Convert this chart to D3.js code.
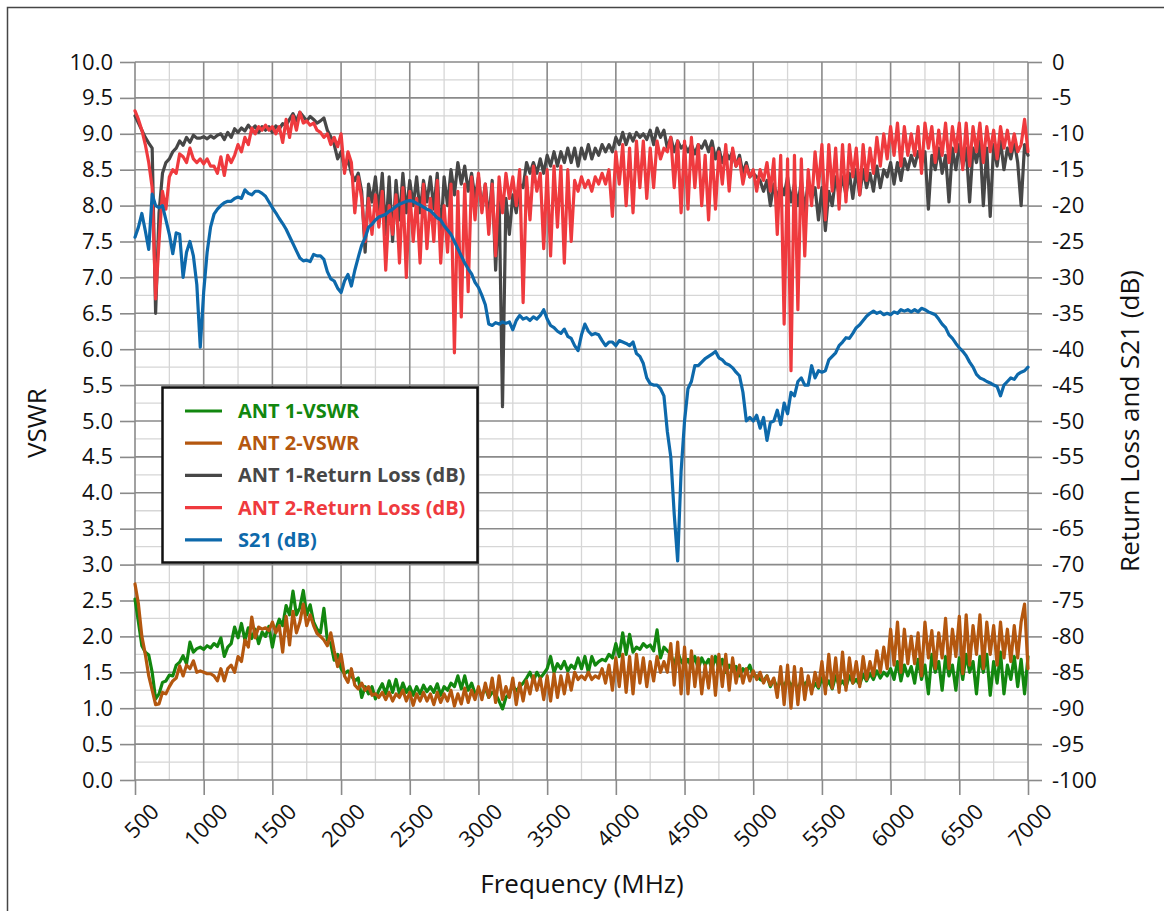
<!DOCTYPE html>
<html><head><meta charset="utf-8">
<script src="https://cdn.jsdelivr.net/npm/d3@7"></script>
<style>
body{margin:0;background:#fff;}
svg{display:block;}
text{font-family:"Open Sans",sans-serif;}
</style></head><body>
<svg id="chart" width="1164" height="911"></svg>
<script>
// Frequency axis (MHz): samples every 25 MHz from 500 to 7000
const freqStart = 500, freqEnd = 7000, freqStep = 25;
const xTickLabels = [500,1000,1500,2000,2500,3000,3500,4000,4500,5000,5500,6000,6500,7000];
const vswrTicks = [0,0.5,1,1.5,2,2.5,3,3.5,4,4.5,5,5.5,6,6.5,7,7.5,8,8.5,9,9.5,10];
const dbTicks = [-100,-95,-90,-85,-80,-75,-70,-65,-60,-55,-50,-45,-40,-35,-30,-25,-20,-15,-10,-5,0];

const ant1Vswr = [
2.52,2.2,1.87,1.78,1.74,1.5,1.13,1.2,
1.36,1.38,1.46,1.45,1.6,1.64,1.73,1.62,
1.92,1.78,1.83,1.85,1.82,1.87,1.84,1.9,
1.86,1.98,1.72,1.85,1.9,2.13,1.98,2.18,
1.95,2.12,1.97,2.1,1.9,2.06,2.0,2.14,
1.85,2.1,2.24,2.15,2.43,2.3,2.63,2.3,
2.4,2.64,2.3,2.44,2.2,2.1,2.05,2.39,
1.95,1.9,1.67,1.75,1.55,1.48,1.52,1.45,
1.38,1.42,1.15,1.3,1.2,1.3,1.13,1.25,
1.34,1.2,1.38,1.22,1.4,1.2,1.35,1.22,
1.3,1.18,1.3,1.2,1.32,1.23,1.3,1.22,
1.34,1.18,1.3,1.25,1.35,1.3,1.45,1.27,
1.45,1.25,1.35,1.2,1.25,1.18,1.28,1.15,
1.22,1.2,1.1,0.99,1.15,1.2,1.32,1.24,
1.3,1.35,1.42,1.5,1.38,1.5,1.42,1.48,
1.55,1.72,1.5,1.62,1.55,1.65,1.52,1.6,
1.55,1.7,1.55,1.72,1.5,1.72,1.6,1.65,
1.68,1.66,1.75,1.7,1.9,1.72,2.05,1.75,
2.03,1.78,1.85,1.82,1.9,1.85,1.88,1.8,
2.09,1.7,1.85,1.8,1.75,1.6,1.78,1.65,
1.6,1.68,1.58,1.72,1.55,1.7,1.6,1.68,
1.55,1.72,1.55,1.68,1.5,1.6,1.52,1.58,
1.45,1.55,1.5,1.6,1.45,1.45,1.4,1.38,
1.45,1.3,1.4,1.28,1.38,1.3,1.42,1.3,
1.38,1.25,1.4,1.32,1.4,1.25,1.35,1.28,
1.42,1.3,1.38,1.27,1.45,1.32,1.38,1.3,
1.45,1.35,1.4,1.33,1.47,1.38,1.48,1.4,
1.52,1.42,1.5,1.45,1.55,1.4,1.65,1.38,
1.6,1.45,1.58,1.35,1.68,1.4,1.6,1.2,
1.75,1.5,1.65,1.25,1.72,1.45,1.6,1.25,
1.7,1.4,1.75,1.5,1.65,1.2,1.72,1.5,
1.75,1.18,1.65,1.35,1.78,1.2,1.6,1.4,
1.72,1.3,1.68,1.2,1.72
];

const ant2Vswr = [
2.73,2.45,2.0,1.75,1.45,1.25,1.05,1.06,
1.22,1.2,1.3,1.38,1.42,1.59,1.45,1.6,
1.55,1.66,1.5,1.52,1.5,1.48,1.48,1.45,
1.38,1.55,1.38,1.55,1.6,1.5,1.72,1.65,
1.95,1.85,2.27,1.98,2.13,2.1,2.12,2.08,
2.2,2.05,2.15,1.78,2.28,1.88,2.35,2.05,
2.2,2.45,2.15,2.3,2.15,2.04,2.0,1.95,
1.87,2.05,1.8,1.58,1.75,1.45,1.36,1.55,
1.32,1.27,1.35,1.25,1.3,1.18,1.2,1.15,
1.22,1.12,1.22,1.1,1.2,1.15,1.25,1.1,
1.22,1.04,1.2,1.1,1.22,1.1,1.2,1.05,
1.22,1.08,1.2,1.1,1.25,1.03,1.2,1.06,
1.28,1.08,1.25,1.12,1.3,1.12,1.35,1.15,
1.42,1.08,1.45,1.12,1.3,1.15,1.42,1.05,
1.35,1.1,1.38,1.2,1.45,1.25,1.42,1.12,
1.45,1.1,1.48,1.15,1.45,1.2,1.48,1.25,
1.5,1.4,1.45,1.4,1.5,1.4,1.45,1.42,
1.55,1.35,1.6,1.25,1.7,1.3,1.75,1.22,
1.72,1.2,1.75,1.35,1.7,1.3,1.65,1.38,
1.72,1.5,1.65,1.5,1.9,1.32,1.92,1.2,
1.85,1.2,1.8,1.3,1.7,1.2,1.6,1.28,
1.72,1.18,1.75,1.3,1.75,1.25,1.7,1.35,
1.6,1.35,1.55,1.38,1.52,1.4,1.5,1.35,
1.45,1.32,1.42,1.15,1.58,1.05,1.6,1.0,
1.58,1.05,1.55,1.12,1.45,1.2,1.5,1.3,
1.65,1.2,1.75,1.28,1.7,1.22,1.78,1.25,
1.7,1.35,1.65,1.3,1.72,1.4,1.65,1.45,
1.8,1.5,1.85,1.55,2.1,1.6,2.2,1.5,
2.1,1.62,2.0,1.62,2.05,1.45,2.2,1.7,
2.08,1.55,2.05,1.7,2.25,1.55,2.1,1.72,
2.28,1.48,2.3,1.6,2.15,1.75,2.3,1.55,
2.2,1.75,2.15,1.6,2.2,1.7,2.1,1.65,
2.15,1.7,2.2,2.45,1.55
];

const ant1ReturnLoss = [
-7.5,-8.5,-9.5,-10.5,-11.3,-12,-35,-21,
-15.5,-14,-13.5,-12.5,-12,-11,-11.6,-10.5,
-11.2,-10.2,-10.6,-10.6,-10.4,-10.7,-10.3,-10.6,
-10.2,-10,-10.8,-9.8,-10.5,-9.3,-9.8,-9.2,
-9.6,-8.8,-9.4,-8.9,-9.8,-9,-9.5,-9,
-9.8,-8.9,-9.3,-8.6,-8.8,-8,-7.2,-8.2,
-7,-7.6,-8.2,-7.6,-8,-8.5,-8.2,-7.8,
-9.5,-10.4,-11.5,-13.5,-12.5,-14.8,-13.5,-15.5,
-16.5,-15.5,-18,-26.5,-17,-19.5,-16,-21,
-15.5,-24,-16,-25,-16.5,-22,-15.5,-21,
-16.5,-20,-16,-21,-16.5,-19.5,-16,-20.5,
-15.5,-24.5,-16,-20,-15,-18.5,-14,-17,
-14.5,-18,-15.5,-19,-16,-20.5,-17,-22,
-16.5,-29,-18,-48,-19,-24,-18.5,-21,
-17,-17.5,-14,-15.5,-14,-15.5,-13.5,-15.5,
-13,-14.5,-12.5,-14.5,-12.5,-14,-12,-14,
-12,-14.5,-12,-13.5,-11.5,-13.5,-12,-13,
-11.5,-12.5,-11.5,-12.5,-10.5,-11.5,-9.8,-11.5,
-10,-11,-9.8,-10.5,-10,-10.8,-9.5,-11.5,
-9.2,-10.5,-9.5,-12,-10.5,-12.5,-11,-12,
-11.5,-12.5,-11.5,-12.8,-11.5,-12,-11,-12.5,
-11,-13.5,-12,-14,-12.5,-13.5,-12.5,-14.5,
-13,-15.5,-14,-16,-15.5,-16,-16.5,-18,
-16.5,-20,-17,-19,-17,-18.5,-16,-19.5,
-17,-20,-16.5,-21,-16.5,-19,-17.5,-22,
-17.5,-23.5,-18,-20,-16,-18.5,-16,-18.5,
-15.5,-19,-15,-18.5,-15,-17.5,-15.5,-18,
-14.5,-17.5,-15,-16,-14,-17,-14,-16.5,
-13.5,-15,-13,-14.5,-12.5,-14,-12.5,-20.5,
-13,-15,-12,-15.5,-13,-19.5,-12,-15,
-11.5,-14.5,-12,-19.5,-12,-14,-11,-20,
-12,-21.5,-11.5,-14.5,-11,-15,-12,-13.5,
-11,-14,-20,-11.5,-13
];

const ant2ReturnLoss = [
-6.8,-8,-9.5,-11.5,-14,-17.5,-33,-25,
-18,-20.5,-16,-15,-15.5,-12.8,-13.2,-14,
-12,-13.5,-14,-13.5,-14.2,-13.5,-14.5,-14.5,
-15.5,-13.2,-15.8,-13,-14,-13,-11.5,-12.5,
-10.5,-11.5,-9.2,-10,-9,-9.5,-8.8,-9.5,
-9,-10,-9,-11.2,-8,-10.5,-7.5,-9.5,
-7,-8.5,-8.2,-8.8,-8.5,-9.5,-9.8,-10.5,
-10,-11.5,-10.5,-11.8,-10,-15.5,-12.5,-14,
-21,-16,-19,-25,-19,-24,-18.5,-23,
-18,-29,-20,-24,-18.5,-28,-17.5,-30,
-18,-25,-19,-28,-17,-26,-19,-25,
-16.5,-28,-20,-26.5,-17,-40.5,-18,-35.5,
-17,-32,-16,-22,-15.5,-21,-17,-24,
-17,-27,-16,-21,-15.5,-19,-16,-20,
-15,-33.5,-16,-22,-14.5,-18,-15.5,-26,
-15,-27,-14.5,-23,-14.5,-28,-15,-25,
-16.5,-18,-16,-17.5,-16.5,-18,-16,-17,
-15.5,-17,-15,-21.5,-12.5,-17,-11.5,-20,
-12,-21,-11,-17.5,-11,-19,-12,-17.5,
-11,-13.5,-12,-12.5,-10.5,-17.5,-11,-21,
-11,-20.5,-10.5,-17.5,-11.5,-20,-13,-22,
-12,-20.5,-12.5,-17,-11.5,-18,-12,-14.5,
-13.5,-17,-14.5,-16,-15,-18,-15,-16.5,
-14,-18,-13.5,-24,-13,-36.5,-13.5,-43,
-13,-34.5,-13.5,-27,-15,-20,-12.5,-17.5,
-11.5,-22,-11.5,-18,-12,-20.5,-11.5,-19.5,
-11.5,-16,-12,-18.5,-11.5,-16.5,-12,-15.5,
-10.5,-14.5,-10,-13.5,-9,-13,-8.5,-14.5,
-9,-13,-10,-13,-9,-15.5,-8.5,-12,
-9,-14,-9.5,-13,-8.5,-14,-9,-12.5,
-8.5,-15,-8.5,-14.5,-9,-12.5,-8.5,-14,
-9,-12.5,-9.5,-13.5,-9,-12,-9.5,-12.5,
-10,-12.5,-11.5,-8,-12.5
];

const s21 = [
-24.4,-23,-21.1,-23.5,-26.1,-18.4,-20,-20.3,
-20,-22,-24,-26.7,-23.8,-24,-30,-26.5,
-25,-27,-31,-39.7,-32,-26.5,-23,-21.2,
-20.5,-20,-19.6,-19.4,-19.4,-19,-18.8,-19,
-17.8,-18.3,-18.5,-18,-18,-18.3,-18.7,-19.5,
-20.3,-21,-21.8,-22.5,-23.3,-24.3,-25.3,-26.3,
-27.3,-27.7,-27.6,-27.8,-26.8,-27,-27,-27.5,
-29.2,-30.2,-30.5,-31.5,-32.1,-30.5,-29.6,-31.2,
-29,-27.2,-25.5,-24.5,-23,-22.6,-22,-21.6,
-21.4,-21.2,-20.8,-20.5,-20.1,-19.8,-19.6,-19.4,
-19.3,-19.4,-19.7,-19.9,-20.2,-20.5,-20.7,-21.2,
-21.7,-22,-22.8,-23.4,-24,-25,-26,-27,
-28,-28.8,-29.5,-30.7,-31.4,-32.5,-33.8,-36.5,
-36.7,-36.3,-36.5,-36.2,-36.4,-36.2,-37.3,-36,
-35.3,-35.8,-35.6,-36,-35.5,-35.8,-35.3,-34.5,
-35.8,-36.7,-37,-37.5,-37.8,-37.2,-38.2,-38.5,
-39.5,-40.2,-38,-36.5,-37.5,-38,-37.8,-38,
-38.8,-39.5,-39,-39,-39.5,-38.8,-39,-39.2,
-39.5,-39,-40.6,-41,-42,-44,-44.8,-45,
-45,-45.5,-46.5,-51.5,-55,-63,-69.5,-57,
-50,-45.5,-44.5,-42.3,-42.3,-41.8,-41.3,-41,
-40.7,-40.3,-41.2,-41.5,-42,-42.2,-42.6,-43.2,
-43.7,-46,-50,-49.5,-50,-49.2,-51,-49.5,
-52.7,-50.2,-50,-48.5,-50.5,-47.5,-49,-46,
-46.5,-44.5,-44,-45,-45,-42.3,-44,-43,
-43.2,-43,-41.5,-41,-40.5,-39.5,-39,-38.4,
-38.5,-37.8,-37,-36.6,-36,-35.4,-35,-34.7,
-35,-34.8,-35.2,-35,-35.2,-34.8,-35,-34.5,
-34.7,-34.5,-34.8,-34.5,-34.8,-34.3,-34.5,-34.8,
-35,-35.2,-35.8,-36.5,-37,-38,-38.5,-39.2,
-39.8,-40.3,-40.9,-41.8,-42.5,-43.5,-44,-44.2,
-44.5,-44.7,-45,-45.2,-46.5,-45,-44.5,-44,
-44.2,-43.5,-43.2,-43,-42.5
];

const seriesNames = ["ANT 1-VSWR","ANT 2-VSWR","ANT 1-Return Loss (dB)","ANT 2-Return Loss (dB)","S21 (dB)"];
const seriesColors = ["#12870f","#b4570f","#474747","#ef3a3e","#0d69ab"];
const seriesValues = [ant1Vswr, ant2Vswr, ant1ReturnLoss, ant2ReturnLoss, s21];
const seriesAxis = ["left","left","right","right","right"];

const freqs = d3.range(freqStart, freqEnd + 1, freqStep);

const svg = d3.select("#chart");
const L = 135, R = 1028, T = 62, B = 780;

const x = d3.scaleLinear().domain([500, 7000]).range([L, R]);
const yL = d3.scaleLinear().domain([0, 10]).range([B, T]);
const yR = d3.scaleLinear().domain([-100, 0]).range([B, T]);

// outer frame
svg.append("path").attr("d", `M7.5,911 V7.5 H1164`).attr("fill","none").attr("stroke","#454545").attr("stroke-width",1.5);

// minor grid
const gMinor = svg.append("g");
gMinor.selectAll("line.mx").data(xTickLabels.slice(0,-1).map(d => d + 250)).join("line")
  .attr("x1", d => x(d)).attr("x2", d => x(d)).attr("y1", T).attr("y2", B)
  .attr("stroke","#d6d6d6").attr("stroke-width",1.3);
gMinor.selectAll("line.my").data(vswrTicks.slice(0,-1).map(d => d + 0.25)).join("line")
  .attr("x1", L).attr("x2", R).attr("y1", d => yL(d)).attr("y2", d => yL(d))
  .attr("stroke","#d6d6d6").attr("stroke-width",1.3);

// major grid
const gMajor = svg.append("g");
gMajor.selectAll("line.gx").data(xTickLabels).join("line")
  .attr("x1", d => x(d)).attr("x2", d => x(d)).attr("y1", T).attr("y2", B)
  .attr("stroke","#8a8a8a").attr("stroke-width",1.6);
gMajor.selectAll("line.gy").data(vswrTicks).join("line")
  .attr("x1", L).attr("x2", R).attr("y1", d => yL(d)).attr("y2", d => yL(d))
  .attr("stroke","#8a8a8a").attr("stroke-width",1.6);

// axes
const styleAxis = g => {
  g.select(".domain").remove();
  g.selectAll(".tick line").attr("stroke","#8a8a8a").attr("stroke-width",1.6);
  g.selectAll(".tick text").attr("fill","#111").style("font-size","22px").style("font-family","'Open Sans', sans-serif");
};
svg.append("g").attr("transform",`translate(${L},0)`)
  .call(d3.axisLeft(yL).tickValues(vswrTicks).tickFormat(d3.format(".1f")).tickSize(15).tickPadding(7))
  .call(styleAxis);
svg.append("g").attr("transform",`translate(${R},0)`)
  .call(d3.axisRight(yR).tickValues(dbTicks).tickFormat(d => String(d)).tickSize(14).tickPadding(10))
  .call(styleAxis);
const gx = svg.append("g").attr("transform",`translate(0,${B})`)
  .call(d3.axisBottom(x).tickValues(xTickLabels).tickFormat(d => String(d)).tickSize(15))
  .call(styleAxis);
gx.selectAll(".tick text").attr("y",0).attr("dy",0).attr("text-anchor","end")
  .attr("transform","translate(25,33) rotate(-45)");

// series lines
const gLines = svg.append("g");
seriesValues.forEach((vals, i) => {
  const ys = seriesAxis[i] === "left" ? yL : yR;
  const line = d3.line().x((d, j) => x(freqs[j])).y(d => ys(d));
  gLines.append("path").datum(vals).attr("d", line)
    .attr("fill","none").attr("stroke", seriesColors[i]).attr("stroke-width",3.2)
    .attr("stroke-linejoin","round").attr("stroke-linecap","round");
});

// axis titles
svg.append("text").attr("x", 582).attr("y", 893).attr("text-anchor","middle")
  .style("font-size","26px").attr("fill","#111").text("Frequency (MHz)");
svg.append("text").attr("transform","translate(46,423) rotate(-90)").attr("text-anchor","middle")
  .style("font-size","26px").attr("fill","#111").text("VSWR");
svg.append("text").attr("transform","translate(1139,421) rotate(-90)").attr("text-anchor","middle")
  .style("font-size","26px").attr("fill","#111").text("Return Loss and S21 (dB)");

// legend
const lg = svg.append("g");
lg.append("rect").attr("x",162.5).attr("y",387.5).attr("width",315).attr("height",175)
  .attr("fill","#fff").attr("stroke","#111").attr("stroke-width",2.5);
seriesNames.forEach((name, i) => {
  const yy = 411 + i * 32.2;
  lg.append("line").attr("x1",185).attr("x2",222).attr("y1",yy).attr("y2",yy)
    .attr("stroke", seriesColors[i]).attr("stroke-width",3.2);
  lg.append("text").attr("x",238).attr("y",yy).attr("dy","0.35em")
    .style("font-size","20px").style("font-weight","700").attr("fill", seriesColors[i]).text(name);
});
</script>
</body></html>
